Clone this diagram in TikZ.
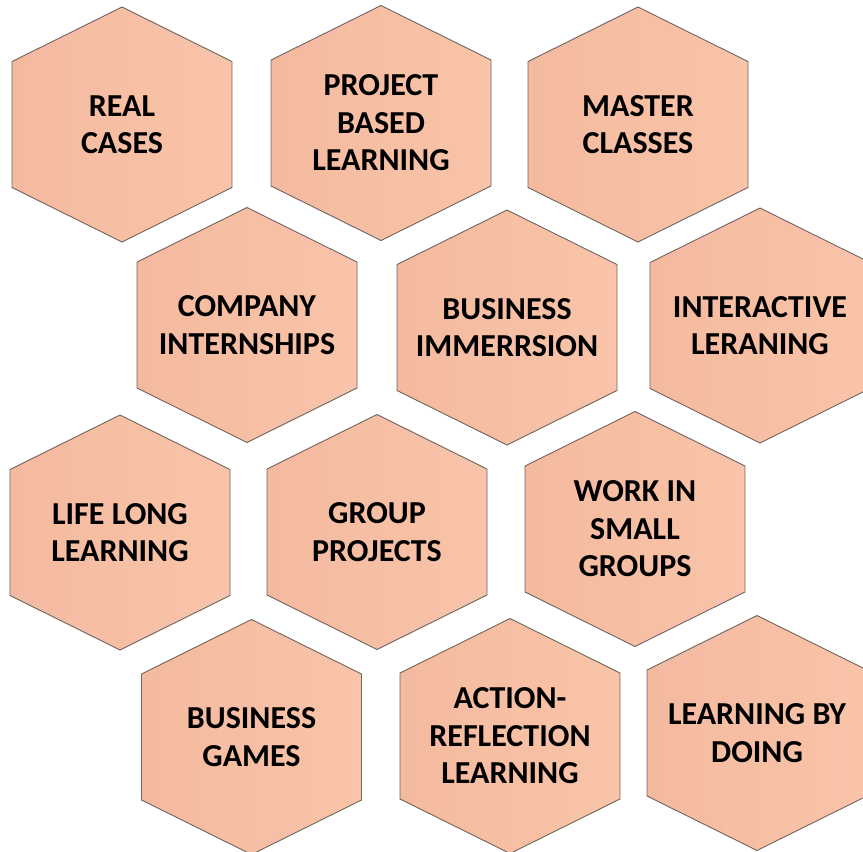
\documentclass[tikz,border=0pt]{standalone}
\usepackage{fontspec}
\newfontfamily\hexfont{Carlito}
\usetikzlibrary{calc}
\definecolor{hexleft}{HTML}{F4BA9F}
\definecolor{hexright}{HTML}{F9C4A9}
\definecolor{hexrim}{HTML}{6E6460}
\tikzset{
	hexline/.style={draw=hexrim, line width=0.9pt, line join=miter, left color=hexleft, right color=hexright},
	hextext/.style={align=center, text=black, font=\hexfont\bfseries\fontsize{32}{37.5}\selectfont}
}
% hexagon cell: centre (x,y) in pixels, node name, text
\def\hexcell(#1,#2)#3#4{\draw[hexline] ({#1},{#2-117.5}) -- ({#1+110},{#2-63}) -- ({#1+110},{#2+63}) -- ({#1},{#2+117.5}) -- ({#1-110},{#2+63}) -- ({#1-110},{#2-63}) -- cycle;
	\node[hextext] (#3) at (#1,#2) {#4};}

\begin{document}
\begin{tikzpicture}[x=1pt, y=-1pt]
		%%%%% START %%%%%
		
		\clip (0, 0) rectangle (863, 852);
		
		\hexcell(122, 124.5){realcases}{REAL\\CASES}
		\hexcell(381, 123){projectbased}{PROJECT\\BASED\\LEARNING}
		\hexcell(638, 124.5){masterclasses}{MASTER\\CLASSES}
		
		\hexcell(247, 325){internships}{COMPANY\\INTERNSHIPS}
		\hexcell(507, 327.5){immersion}{BUSINESS\\IMMERRSION}
		\hexcell(760, 325.5){interactive}{INTERACTIVE\\LERANING}
		
		\hexcell(120, 532.5){lifelong}{LIFE LONG\\LEARNING}
		\hexcell(377, 532){groupprojects}{GROUP\\PROJECTS}
		\hexcell(635, 529){smallgroups}{WORK IN\\SMALL\\GROUPS}
		
		\hexcell(251.5, 737){games}{BUSINESS\\GAMES}
		\hexcell(510, 736){actionreflection}{ACTION-\\REFLECTION\\LEARNING}
		\hexcell(757, 733){doing}{LEARNING BY\\DOING}
		
		%%%%% END %%%%%
	\end{tikzpicture}
\end{document}
